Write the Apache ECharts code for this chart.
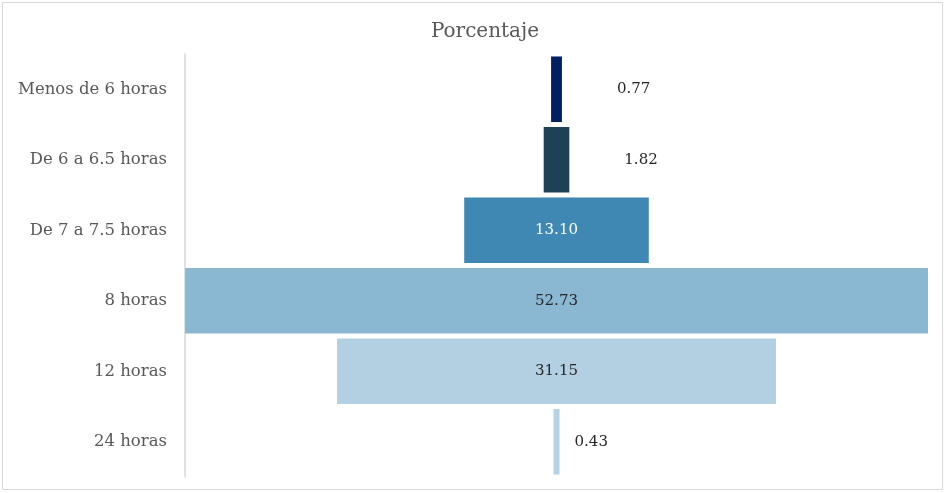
<!DOCTYPE html>
<html>
<head>
    <meta charset="utf-8">
    <title>Porcentaje</title>
    <script src="https://cdn.jsdelivr.net/npm/echarts@6/dist/echarts.min.js"></script>
    <style>
        html, body { margin: 0; padding: 0; background: #fff; }
        #container { width: 946px; height: 493px; }
    </style>
</head>
<body>
    <div id="container"></div>
<script type="text/javascript">
    var categorias = ['Menos de 6 horas', 'De 6 a 6.5 horas', 'De 7 a 7.5 horas', '8 horas', '12 horas', '24 horas'];
    var porcentajes = [0.77, 1.82, 13.10, 52.73, 31.15, 0.43];
    var colores = ['#002060', '#1f4157', '#3f88b3', '#8ab8d3', '#b2d0e2', '#b4d3e4'];

    var maximo = Math.max.apply(null, porcentajes);
    // espacio invisible a la izquierda para centrar cada barra (embudo)
    var relleno = porcentajes.map(function (v) { return (maximo - v) / 2; });

    // etiquetas: dentro para barras anchas, fuera a la derecha para las pequeñas
    var distancias = [55, 55, 0, 0, 0, 15];
    var barras = porcentajes.map(function (v, i) {
        var fuera = v < 5;
        return {
            value: v,
            itemStyle: { color: colores[i] },
            label: {
                position: fuera ? 'right' : 'inside',
                distance: distancias[i],
                color: i === 2 ? '#ffffff' : '#262626'
            }
        };
    });

    var myChart = echarts.init(document.getElementById('container'));
    var option = {
        animation: false,
        title: {
            text: 'Porcentaje',
            left: 480,
            top: 17,
            textAlign: 'center',
            textStyle: {
                fontFamily: 'DejaVu Serif',
                fontWeight: 'normal',
                fontSize: 20,
                color: '#595959'
            }
        },
        graphic: [{
            type: 'rect',
            shape: { x: 2.5, y: 2.5, width: 940, height: 487 },
            style: { fill: 'none', stroke: '#d9d9d9', lineWidth: 1 },
            silent: true
        }],
        grid: {
            left: 185,
            right: 18,
            top: 54,
            bottom: 16
        },
        xAxis: {
            type: 'value',
            min: 0,
            max: maximo,
            show: false
        },
        yAxis: {
            type: 'category',
            inverse: true,
            data: categorias,
            axisLine: { show: true, lineStyle: { color: '#d9d9d9', width: 1.5 } },
            axisTick: { show: false },
            axisLabel: {
                margin: 18,
                fontFamily: 'DejaVu Serif',
                fontSize: 16.5,
                color: '#595959'
            }
        },
        series: [{
            type: 'bar',
            stack: 'embudo',
            data: relleno,
            itemStyle: { color: 'transparent' },
            silent: true,
            barCategoryGap: '7%'
        }, {
            type: 'bar',
            stack: 'embudo',
            data: barras,
            barCategoryGap: '7%',
            label: {
                show: true,
                fontFamily: 'DejaVu Serif',
                fontSize: 15,
                formatter: function (p) { return p.value.toFixed(2); }
            }
        }]
    };
    myChart.setOption(option);
</script>
</body>
</html>
